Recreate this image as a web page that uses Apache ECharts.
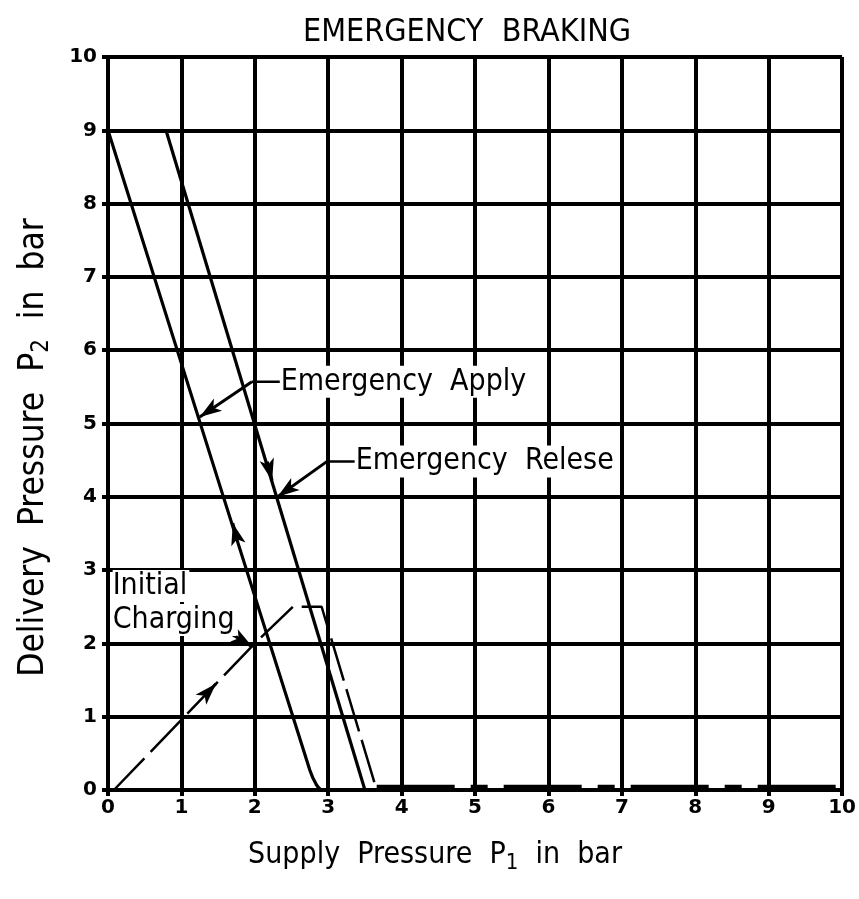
<!DOCTYPE html>
<html>
<head>
	<meta charset="utf-8">
	<script src="https://cdn.jsdelivr.net/npm/echarts@6/dist/echarts.min.js"></script>
	<title>Emergency braking</title>
	<style>
		html, body { margin: 0; padding: 0; background: #fff; }
		#main { width: 859px; height: 899px; }
	</style>
</head>
<body>
	<div id="main"></div>
	<script type="text/javascript">
		// values, P1 (x) and P2 (y) in bar
		var xTicks = [0, 1, 2, 3, 4, 5, 6, 7, 8, 9, 10]
		var yTicks = [0, 1, 2, 3, 4, 5, 6, 7, 8, 9, 10]
		var applyLine = [[0, 9], [2.75, 0.27], [2.84, 0.07], [2.9, 0]]
		var releaseLine = [[0.79, 9], [3.5, 0]]
		var chargingLine = [[0.08, 0], [2, 2], [2.52, 2.5], [2.91, 2.5], [3.66, 0]]
		var restLine = [[3.66, 0.03], [10, 0.03]]

		// arrowheads on the curves: [from, to]
		var curveArrows = [
			[[1.75, 3.45], [1.70, 3.64]],
			[[2.17, 4.48], [2.236, 4.22]],
			[[1.33, 1.30], [1.47, 1.45]]
		]
		// leaders from the labels: polyline points, last one is the arrow tip
		var applyLeader = [[2.34, 5.57], [1.96, 5.57], [1.25, 5.09]]
		var releaseLeader = [[3.36, 4.48], [2.98, 4.48], [2.31, 4.0]]
		var chargingLeader = [[1.68, 2.13], [1.97, 1.95]]
		var labels = [
			{ text: '{t|Emergency  Apply}', at: [2.34, 5.57] },
			{ text: '{t|Emergency  Relese}', at: [3.36, 4.48] },
			{ text: '{t|Initial}\n{t|Charging}', at: [0.05, 2.55] }
		]

		var font = "'Liberation Sans Narrow', 'DejaVu Sans Condensed', 'Liberation Sans', sans-serif"
		var tickFont = "'DejaVu Sans', sans-serif"

		function curve (name, data, extra) {
			var s = {
				name: name,
				type: 'line',
				data: data,
				symbol: 'none',
				silent: true,
				lineStyle: { color: '#000', width: 3.2 },
				z: 5
			}
			for (var k in extra) s[k] = extra[k]
			return s
		}

		function arrowMarks (pairs) {
			return {
				silent: true,
				symbol: ['none', 'arrow'],
				symbolSize: [11, 22],
				label: { show: false },
				lineStyle: { color: '#000', width: 3, type: 'solid' },
				data: pairs.map(function (p) {
					return [{ coord: p[0] }, { coord: p[1] }]
				})
			}
		}

		function leader (pts) {
			return curve('leader', pts.slice(0, pts.length - 1), {
				lineStyle: { color: '#000', width: 2.5 },
				markLine: arrowMarks([[pts[pts.length - 2], pts[pts.length - 1]]])
			})
		}

		var myChart = echarts.init(document.getElementById('main'))

		var option = {
			animation: false,
			backgroundColor: '#fff',
			title: {
				text: 'EMERGENCY  BRAKING',
				left: 462,
				textAlign: 'center',
				top: 12,
				textStyle: { fontFamily: font, fontSize: 32, fontWeight: 'normal', color: '#000' }
			},
			grid: { left: 108, right: 16, top: 57, bottom: 109 },
			xAxis: {
				type: 'value',
				min: xTicks[0],
				max: xTicks[xTicks.length - 1],
				interval: 1,
				name: 'Supply  Pressure  P{sub|1}  in  bar',
				nameLocation: 'middle',
				nameGap: 46,
				nameTextStyle: {
					fontFamily: font, fontSize: 30, color: '#000', padding: [0, 80, 0, 0],
					rich: { sub: { fontFamily: font, fontSize: 22, verticalAlign: 'bottom', padding: [16, 0, 0, 0] } }
				},
				axisLine: { lineStyle: { color: '#000', width: 4 } },
				axisTick: { show: true, length: 6, lineStyle: { color: '#000', width: 4 } },
				axisLabel: { color: '#000', fontFamily: tickFont, fontWeight: 'bold', fontSize: 20, margin: 8 },
				splitLine: { show: true, lineStyle: { color: '#000', width: 4 } }
			},
			yAxis: {
				type: 'value',
				min: yTicks[0],
				max: yTicks[yTicks.length - 1],
				interval: 1,
				name: 'Delivery  Pressure  P{sub|2}  in  bar',
				nameLocation: 'middle',
				nameGap: 54,
				nameTextStyle: {
					fontFamily: font, fontSize: 35, color: '#000', padding: [0, 48, 0, 0],
					rich: { sub: { fontFamily: font, fontSize: 24, verticalAlign: 'bottom', padding: [16, 0, 0, 0] } }
				},
				axisLine: { lineStyle: { color: '#000', width: 4 } },
				axisTick: { show: true, length: 6, lineStyle: { color: '#000', width: 4 } },
				axisLabel: { color: '#000', fontFamily: tickFont, fontWeight: 'bold', fontSize: 20, margin: 11 },
				splitLine: { show: true, lineStyle: { color: '#000', width: 4 } }
			},
			series: [
				curve('Emergency Apply', applyLine, { smooth: 0.3, markLine: arrowMarks([curveArrows[0]]) }),
				curve('Emergency Relese', releaseLine, { markLine: arrowMarks([curveArrows[1]]) }),
				curve('Initial Charging', chargingLine, {
					lineStyle: { color: '#000', width: 2.5, type: [44, 9] },
					markLine: arrowMarks([curveArrows[2]])
				}),
				curve('rest', restLine, {
					lineStyle: { color: '#000', width: 6, type: [78, 16, 17, 16] }
				}),
				leader(applyLeader),
				leader(releaseLeader),
				leader(chargingLeader),
				{
					type: 'scatter',
					silent: true,
					symbolSize: 0,
					itemStyle: { color: '#000', opacity: 1 },
					data: labels.map(function (l) { return { value: l.at, name: l.text } }),
					label: {
						show: true,
						position: 'right',
						distance: 1,
						formatter: function (p) { return p.name },
						color: '#000',
						rich: {
							t: {
								fontFamily: font,
								fontSize: 30,
								lineHeight: 34,
								padding: [1, 2, 1, 0],
								color: '#000',
								backgroundColor: '#fff'
							}
						}
					},
					z: 10
				}
			]
		}
		myChart.setOption(option)
	</script>
</body>
</html>
